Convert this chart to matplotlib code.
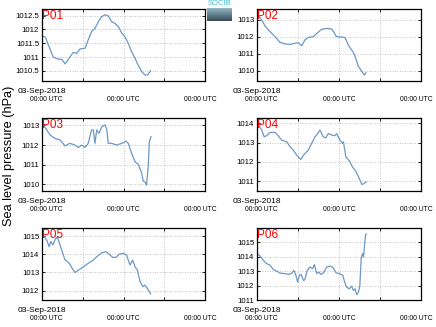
import numpy as np
import matplotlib
matplotlib.use("Agg")
import matplotlib.pyplot as plt
import matplotlib.transforms as mtransforms
from matplotlib.ticker import FuncFormatter

plt.rcParams['font.family'] = ['Liberation Sans', 'DejaVu Sans']

# ---------------- data (hours since 03-Sep-2018 00:00 UTC, hPa) ----------------
stations = ["P01", "P02", "P03", "P04", "P05", "P06"]

p01_h = [0, 1, 2, 3.3, 4.8, 5.8, 6.8, 8.3, 9.2, 10.2, 11.2, 12.7, 13.6, 14.6, 15.6, 16.6,
         17.6, 18.6, 19.5, 20.5, 21.5, 22.5, 23.5, 24.4, 25.4, 26.4, 27.4, 28.3, 29.4, 30.3, 31.1, 32.0]
p01_v = [1011.76, 1011.72, 1011.4, 1011.0, 1010.92, 1010.92, 1010.75, 1011.01, 1011.17, 1011.13,
         1011.29, 1011.32, 1011.62, 1011.92, 1012.04, 1012.28, 1012.47, 1012.53, 1012.49, 1012.28,
         1012.22, 1012.1, 1011.86, 1011.74, 1011.5, 1011.19, 1010.95, 1010.71, 1010.47, 1010.35,
         1010.35, 1010.5]

p02_h = [0, 1.4, 2.3, 3.8, 5.3, 6.7, 8.2, 9.7, 11.1, 12.1, 13.1, 14.0, 15.0, 16.5, 17.5, 18.9,
         20.4, 21.9, 23.3, 24.8, 25.8, 26.7, 27.7, 28.5, 29.7, 30.8, 31.4, 31.9]
p02_v = [1013.36, 1012.97, 1012.64, 1012.29, 1012.0, 1011.67, 1011.57, 1011.55, 1011.61, 1011.64,
         1011.47, 1011.8, 1011.95, 1012.0, 1012.19, 1012.43, 1012.48, 1012.44, 1012.0, 1011.98,
         1011.94, 1011.51, 1011.22, 1010.97, 1010.24, 1009.94, 1009.75, 1009.88]

p03_h = [0, 0.4, 1.4, 2.4, 3.8, 5.3, 6.8, 8.2, 9.7, 10.7, 11.7, 12.7, 13.6, 14.6, 15.1, 15.6,
         16.1, 16.8, 17.6, 18.6, 19.1, 19.5, 20.5, 22.0, 23.5, 24.7, 25.4, 26.4, 27.4, 28.4,
         29.4, 29.8, 30.3, 30.8, 31.3, 31.6, 32.1]
p03_v = [1013.1, 1013.03, 1012.77, 1012.51, 1012.34, 1012.26, 1011.96, 1012.09, 1012.0, 1011.88,
         1012.0, 1011.88, 1012.09, 1012.77, 1012.77, 1012.09, 1012.77, 1012.6, 1012.94, 1013.03,
         1012.77, 1012.09, 1012.09, 1012.0, 1012.09, 1012.2, 1012.09, 1011.58, 1011.15, 1011.01,
         1010.55, 1010.16, 1010.13, 1009.96, 1010.98, 1012.17, 1012.43]

p04_h = [0, 0.4, 1.4, 2.1, 2.8, 3.8, 5.3, 6.2, 7.2, 8.7, 9.7, 10.6, 11.6, 12.8, 13.6, 15.0,
         16.0, 17.0, 17.8, 18.4, 19.4, 20.1, 20.9, 21.9, 22.8, 23.3, 24.3, 25.0, 25.3, 26.0,
         27.2, 27.9, 28.7, 29.7, 30.7, 31.4, 31.9]
p04_v = [1014.0, 1013.91, 1013.65, 1013.3, 1013.36, 1013.53, 1013.53, 1013.36, 1013.13, 1013.04,
         1012.78, 1012.61, 1012.35, 1012.12, 1012.35, 1012.61, 1012.96, 1013.3, 1013.47, 1013.65,
         1013.3, 1013.25, 1013.47, 1013.39, 1013.36, 1013.47, 1013.13, 1012.96, 1013.04, 1012.26,
         1012.0, 1011.74, 1011.57, 1011.22, 1010.82, 1010.87, 1010.96]

p05_h = [0, 0.2, 1.4, 2.1, 2.6, 3.2, 3.8, 4.5, 5.3, 6.1, 6.8, 7.6, 8.2, 9.0, 9.7, 10.7, 12.2,
         13.6, 15.1, 16.1, 17.6, 18.8, 19.8, 20.8, 21.8, 22.8, 23.9, 24.9, 25.9, 26.7, 27.4,
         28.1, 28.9, 29.7, 30.3, 31.0, 32.0]
p05_v = [1015.1, 1015.05, 1014.78, 1014.41, 1014.7, 1014.51, 1014.78, 1014.96, 1014.51, 1014.05,
         1013.68, 1013.59, 1013.45, 1013.19, 1013.0, 1013.13, 1013.31, 1013.5, 1013.68, 1013.86,
         1014.08, 1014.14, 1014.0, 1013.83, 1013.83, 1014.01, 1014.05, 1013.96, 1013.41, 1013.68,
         1013.31, 1013.13, 1012.49, 1012.22, 1012.31, 1012.13, 1011.82]

p06_h = [0, 0.9, 1.8, 2.8, 3.8, 4.8, 5.8, 6.7, 8.2, 9.5, 10.2, 10.8, 11.4, 11.9, 12.4, 12.9,
         13.6, 14.0, 14.7, 15.5, 16.3, 16.8, 17.5, 18.1, 18.7, 19.4, 20.4, 21.4, 22.3, 23.1,
         24.1, 25.1, 25.8, 26.3, 27.0, 27.7, 28.2, 28.7, 29.2, 29.7, 30.1, 30.5, 30.9, 31.2,
         31.5, 31.8, 32.0]
p06_v = [1014.25, 1014.05, 1013.77, 1013.53, 1013.42, 1013.11, 1013.01, 1012.87, 1012.83, 1012.78,
         1012.87, 1013.06, 1012.71, 1012.24, 1012.71, 1012.78, 1012.36, 1012.41, 1013.06, 1013.29,
         1013.18, 1013.46, 1012.83, 1012.94, 1012.78, 1012.87, 1013.29, 1013.36, 1013.24, 1012.89,
         1012.83, 1012.71, 1012.13, 1011.89, 1011.78, 1011.96, 1011.66, 1011.78, 1011.38, 1011.54,
         1012.01, 1013.88, 1014.23, 1014.0, 1014.93, 1015.52, 1015.59]

hours = [p01_h, p02_h, p03_h, p04_h, p05_h, p06_h]
values = [p01_v, p02_v, p03_v, p04_v, p05_v, p06_v]

y_limits = [(1010.13, 1012.74), (1009.4, 1013.62), (1009.66, 1013.38),
            (1010.48, 1014.28), (1011.49, 1015.44), (1011.0, 1016.0)]
y_ticks = [[1010.5, 1011, 1011.5, 1012, 1012.5], [1010, 1011, 1012, 1013],
           [1010, 1011, 1012, 1013], [1011, 1012, 1013, 1014],
           [1012, 1013, 1014, 1015], [1011, 1012, 1013, 1014, 1015]]
x_ticks = [0, 12, 24, 36, 48]
x_ticklabels = ["00:00 UTC", "", "00:00 UTC", "", "00:00 UTC"]
date_label = "03-Sep-2018"
ylabel = "Sea level pressure (hPa)"

# ---------------- figure ----------------
W, H = 436, 327
fig = plt.figure(figsize=(W / 100, H / 100), dpi=100)

cols = [(42, 163), (257, 164)]
rows = [(9, 81), (118, 191), (228, 300)]
line_color = '#6b98c6'
label_shift_px = [4, 0, 0, 0, -5]

for i, name in enumerate(stations):
    r, c = divmod(i, 2)
    x0, w = cols[c]
    top, bot = rows[r]
    ax = fig.add_axes([x0 / W, 1 - bot / H, w / W, (bot - top) / H])
    ax.plot(hours[i], values[i], color=line_color, lw=0.9)
    ax.set_xlim(0, 48)
    ax.set_ylim(*y_limits[i])
    ax.set_xticks(x_ticks)
    ax.set_xticklabels(x_ticklabels)
    ax.set_yticks(y_ticks[i])
    ax.yaxis.set_major_formatter(FuncFormatter(lambda v, p: '%g' % v))
    ax.grid(True, linestyle=(0, (1, 2)), color='#b0b0b0', lw=0.6)
    ax.tick_params(direction='in', length=2, width=0.6, top=True, right=True,
                   colors='black')
    ax.tick_params(axis='x', labelsize=4.9, pad=11)
    ax.tick_params(axis='y', labelsize=5.6, pad=2)
    for lab, dx in zip(ax.get_xticklabels(), label_shift_px):
        lab.set_transform(lab.get_transform() +
                          mtransforms.ScaledTranslation(dx / 100, 0, fig.dpi_scale_trans))
    for s in ax.spines.values():
        s.set_linewidth(0.9)
    ax.text(0.003, 0.985, name, transform=ax.transAxes, color='red', fontsize=8.5,
            ha='left', va='top')
    ax.annotate(date_label, xy=(0, 0), xycoords=('data', 'axes fraction'),
                xytext=(0, -5), textcoords='offset points', ha='center', va='top',
                fontsize=6)

fig.text(9.5 / W, 1 - 155.5 / H, ylabel, rotation=90, ha='center', va='center',
         fontsize=9.2)

# logo
fig.text(219.5 / W, 1 - 3.5 / H, "SOCIB", color='#3fc0d8', fontsize=5.5,
         ha='center', va='center')
lax = fig.add_axes([207 / W, 1 - 21 / H, 25 / W, 13 / H])
grad = np.linspace(0, 1, 50).reshape(-1, 1)
lax.imshow(grad, aspect='auto', cmap=matplotlib.colors.LinearSegmentedColormap.from_list(
    'g', ['#8fb7c4', '#3c4a58']))
lax.axis('off')

fig.savefig('out.png', dpi=100)
